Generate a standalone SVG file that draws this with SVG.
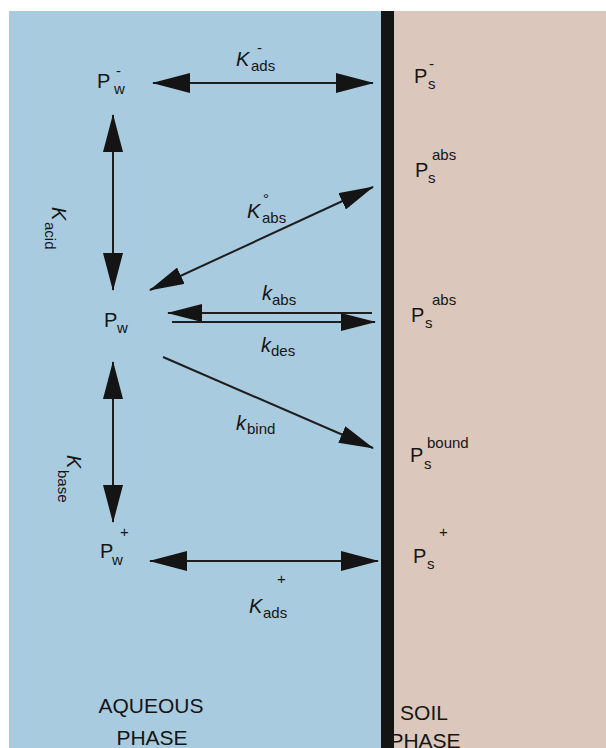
<svg xmlns="http://www.w3.org/2000/svg" width="606" height="748" viewBox="0 0 606 748">
<style>
text{font-family:"Liberation Sans",Arial,sans-serif;fill:#151515}
.P{font-size:20px}
.sub{font-size:15px}
.K{font-size:20px;font-style:italic}
.lab{font-size:21px}
.ln{stroke:#1e1e1e;stroke-width:2;fill:none}
</style>
<defs>
<marker id="h" viewBox="0 0 38 20" refX="37" refY="10" markerWidth="38" markerHeight="20" markerUnits="userSpaceOnUse" orient="auto-start-reverse">
<path d="M0,0 L38,10 L0,20 Z" fill="#141414"/>
</marker>
<marker id="hs" viewBox="0 0 35 18" refX="34" refY="9" markerWidth="35" markerHeight="18" markerUnits="userSpaceOnUse" orient="auto-start-reverse">
<path d="M0,0 L35,9 L0,18 Z" fill="#141414"/>
</marker>
</defs>
<rect x="0" y="0" width="606" height="748" fill="#ffffff"/>
<rect x="9" y="11" width="372" height="737" fill="#a8cbdf"/>
<rect x="381" y="11" width="13" height="737" fill="#141414"/>
<rect x="394" y="11" width="212" height="737" fill="#dbc7bb"/>

<g id="connectors">
<line class="ln" x1="153" y1="83" x2="373" y2="83" marker-start="url(#h)" marker-end="url(#h)"/>
<line class="ln" x1="113" y1="115" x2="113" y2="290" marker-start="url(#h)" marker-end="url(#h)"/>
<line class="ln" x1="150" y1="290" x2="373" y2="187" marker-start="url(#hs)" marker-end="url(#hs)"/>
<line class="ln" x1="372" y1="313" x2="168" y2="313" marker-end="url(#hs)"/>
<line class="ln" x1="172" y1="322" x2="375" y2="322" marker-end="url(#hs)"/>
<line class="ln" x1="163" y1="357" x2="373" y2="448" marker-end="url(#hs)"/>
<line class="ln" x1="113" y1="362" x2="113" y2="522" marker-start="url(#h)" marker-end="url(#h)"/>
<line class="ln" x1="150" y1="561" x2="378" y2="561" marker-start="url(#h)" marker-end="url(#h)"/>
</g>

<g id="Pw-minus">
<text class="P" x="97" y="88">P</text>
<text class="sub" x="114" y="94">w</text>
<text class="sub" x="116" y="76">-</text>
</g>
<g id="Ps-minus">
<text class="P" x="414" y="83">P</text>
<text class="sub" x="428" y="89">s</text>
<text class="sub" x="429" y="69">-</text>
</g>
<g id="Ps-abs-top">
<text class="P" x="415" y="177">P</text>
<text class="sub" x="428" y="183">s</text>
<text class="sub" x="432" y="160">abs</text>
</g>
<g id="Pw">
<text class="P" x="104" y="327">P</text>
<text class="sub" x="117" y="333">w</text>
</g>
<g id="Ps-abs-mid">
<text class="P" x="411" y="322">P</text>
<text class="sub" x="425" y="328">s</text>
<text class="sub" x="432" y="305">abs</text>
</g>
<g id="Ps-bound">
<text class="P" x="410" y="462">P</text>
<text class="sub" x="424" y="469">s</text>
<text class="sub" x="427" y="448">bound</text>
</g>
<g id="Pw-plus">
<text class="P" x="100" y="558">P</text>
<text class="sub" x="112" y="565">w</text>
<text class="sub" x="120" y="537">+</text>
</g>
<g id="Ps-plus">
<text class="P" x="413" y="563">P</text>
<text class="sub" x="427" y="569">s</text>
<text class="sub" x="439" y="537">+</text>
</g>

<g id="labels">
<text class="K" x="236" y="66">K</text>
<text class="sub" x="251" y="71">ads</text>
<text class="sub" x="257" y="53">-</text>

<g transform="translate(52,207) rotate(90)">
<text class="K" x="0" y="0">K</text>
<text class="sub" x="15" y="7">acid</text>
</g>

<text class="K" x="247" y="218">K</text>
<text class="sub" x="262" y="223">abs</text>
<text class="sub" x="263" y="204">°</text>

<text class="K" x="262" y="300">k</text>
<text class="sub" x="272" y="305">abs</text>

<text class="K" x="261" y="352">k</text>
<text class="sub" x="271" y="356">des</text>

<text class="K" x="236" y="430">k</text>
<text class="sub" x="247" y="434">bind</text>

<g transform="translate(67,455) rotate(90)">
<text class="K" x="0" y="0">K</text>
<text class="sub" x="15" y="9">base</text>
</g>

<text class="sub" x="277" y="584">+</text>
<text class="K" x="249" y="613">K</text>
<text class="sub" x="263" y="618">ads</text>
</g>

<g id="phase-labels">
<text class="lab" x="151" y="713" text-anchor="middle">AQUEOUS</text>
<text class="lab" x="152" y="745" text-anchor="middle">PHASE</text>
<text class="lab" x="424" y="720" text-anchor="middle">SOIL</text>
<text class="lab" x="425" y="748" text-anchor="middle">PHASE</text>
</g>
</svg>
